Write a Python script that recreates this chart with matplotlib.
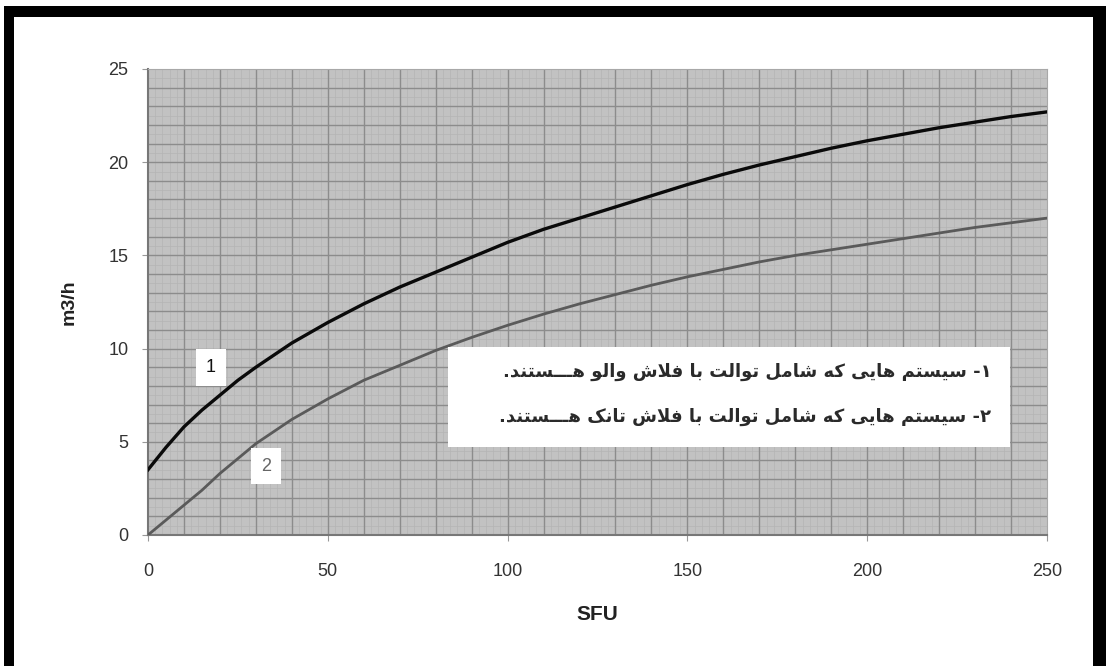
import matplotlib.pyplot as plt
from matplotlib.patches import Rectangle
from matplotlib.ticker import MultipleLocator

# values
sfu = [0, 5, 10, 15, 20, 25, 30, 40, 50, 60, 70, 80, 90, 100, 110, 120, 130,
       140, 150, 160, 170, 180, 190, 200, 210, 220, 230, 240, 250]
flow_valve = [3.5, 4.7, 5.8, 6.7, 7.5, 8.3, 9.0, 10.3, 11.4, 12.4, 13.3, 14.1, 14.9,
              15.7, 16.4, 17.0, 17.6, 18.2, 18.8, 19.35, 19.85, 20.3, 20.75, 21.15,
              21.5, 21.85, 22.15, 22.45, 22.7]
flow_tank = [0.0, 0.8, 1.6, 2.4, 3.3, 4.1, 4.9, 6.2, 7.3, 8.3, 9.1, 9.9, 10.6,
             11.25, 11.85, 12.4, 12.9, 13.4, 13.85, 14.25, 14.65, 15.0, 15.3, 15.6,
             15.9, 16.2, 16.5, 16.75, 17.0]

x_ticks = [0, 50, 100, 150, 200, 250]
y_ticks = [0, 5, 10, 15, 20, 25]

note_lines = [
    "۱- سیستم هایی که شامل توالت با فلاش والو هـــستند.",
    "۲- سیستم هایی که شامل توالت با فلاش تانک هـــستند.",
]

# Arabic presentation forms: (isolated, final, initial, medial)
FORMS = {
    'ا': ('\uFE8D', '\uFE8E', None, None),
    'ب': ('\uFE8F', '\uFE90', '\uFE91', '\uFE92'),
    'ت': ('\uFE95', '\uFE96', '\uFE97', '\uFE98'),
    'د': ('\uFEA9', '\uFEAA', None, None),
    'س': ('\uFEB1', '\uFEB2', '\uFEB3', '\uFEB4'),
    'ش': ('\uFEB5', '\uFEB6', '\uFEB7', '\uFEB8'),
    'ف': ('\uFED1', '\uFED2', '\uFED3', '\uFED4'),
    'ل': ('\uFEDD', '\uFEDE', '\uFEDF', '\uFEE0'),
    'م': ('\uFEE1', '\uFEE2', '\uFEE3', '\uFEE4'),
    'ن': ('\uFEE5', '\uFEE6', '\uFEE7', '\uFEE8'),
    'ه': ('\uFEE9', '\uFEEA', '\uFEEB', '\uFEEC'),
    'و': ('\uFEED', '\uFEEE', None, None),
    'ی': ('\uFBFC', '\uFBFD', '\uFBFE', '\uFBFF'),
    'ک': ('\uFB8E', '\uFB8F', '\uFB90', '\uFB91'),
}
TATWEEL = 'ـ'


def joins_next(ch):
    # can this char connect to the following letter
    if ch == TATWEEL:
        return True
    return ch in FORMS and FORMS[ch][2] is not None


def joins_prev(ch):
    return ch == TATWEEL or ch in FORMS


def shape(text):
    chars = list(text)
    out = []
    i = 0
    while i < len(chars):
        ch = chars[i]
        prev = chars[i - 1] if i > 0 else ''
        nxt = chars[i + 1] if i + 1 < len(chars) else ''
        if ch not in FORMS:
            out.append(ch)
            i += 1
            continue
        from_prev = joins_next(prev) if prev else False
        # lam-alef ligature
        if ch == 'ل' and nxt == 'ا':
            out.append('\uFEFC' if from_prev else '\uFEFB')
            i += 2
            continue
        to_next = joins_next(ch) and bool(nxt) and joins_prev(nxt)
        iso, fin, ini, med = FORMS[ch]
        if from_prev and to_next:
            out.append(med)
        elif from_prev:
            out.append(fin)
        elif to_next:
            out.append(ini)
        else:
            out.append(iso)
        i += 1
    return ''.join(reversed(out))


plt.rcParams['font.family'] = ['Liberation Sans', 'DejaVu Sans']

fig = plt.figure(figsize=(11.06, 6.66), dpi=100)
ax = fig.add_axes([0.1338, 0.1967, 0.8129, 0.6997])

ax.set_facecolor('#c2c2c2')
ax.plot(sfu, flow_valve, color='#0a0a0a', lw=2.4, zorder=3)
ax.plot(sfu, flow_tank, color='#5a5a5a', lw=2.0, zorder=3)

ax.set_xlim(0, 250)
ax.set_ylim(0, 25)
ax.set_xticks(x_ticks)
ax.set_yticks(y_ticks)
ax.xaxis.set_minor_locator(MultipleLocator(2))
ax.yaxis.set_minor_locator(MultipleLocator(0.5))

# graph-paper grid
for v in range(10, 250, 10):
    ax.axvline(v, color='#8c8c8c', lw=1.0, zorder=1)
for v in range(1, 25):
    ax.axhline(v, color='#8c8c8c', lw=1.0, zorder=1)
ax.grid(which='minor', color='#b4b4b4', lw=0.5, zorder=0)
ax.set_axisbelow(True)

for side in ['top', 'right']:
    ax.spines[side].set_color('#a8a8a8')
for side in ['left', 'bottom']:
    ax.spines[side].set_color('#777777')
    ax.spines[side].set_linewidth(1.5)

ax.tick_params(which='major', length=4, color='#999999', labelsize=13,
               labelcolor='#333333')
ax.tick_params(axis='x', pad=16)
ax.tick_params(axis='y', pad=10)
ax.tick_params(which='minor', length=0)

ax.set_xlabel('SFU', fontsize=15, fontweight='bold', color='#222222', labelpad=18)
ax.set_ylabel('m3/h', fontsize=14, fontweight='bold', color='#222222', labelpad=22)

# curve labels
ax.text(17.5, 9.0, '1', fontsize=13, color='#111111', ha='center', va='center',
        bbox=dict(boxstyle='square,pad=0.55', fc='white', ec='none'), zorder=4)
ax.text(32.8, 3.7, '2', fontsize=13, color='#666666', ha='center', va='center',
        bbox=dict(boxstyle='square,pad=0.55', fc='white', ec='none'), zorder=4)

# note box
ax.add_patch(Rectangle((0.3337, 0.189), 0.625, 0.214, transform=ax.transAxes,
                       fc='white', ec='none', zorder=4))
for k, line in enumerate(note_lines):
    ax.text(0.938, 0.35 - k * 0.097, shape(line), transform=ax.transAxes,
            fontsize=13, fontweight='bold', family=['DejaVu Sans'], color='#2a2a2a',
            ha='right', va='center', zorder=5)

# black frame around the picture
W, H = 1106, 666
frame = [(4, 6, W - 4, 11), (4, 6, 10, H - 6), (W - 13, 6, 13, H - 6)]
for x0, y0, w, h in frame:
    fig.patches.append(Rectangle((x0 / W, 1 - (y0 + h) / H), w / W, h / H,
                                 transform=fig.transFigure, fc='black', ec='none'))

fig.savefig('out.png', dpi=100)
